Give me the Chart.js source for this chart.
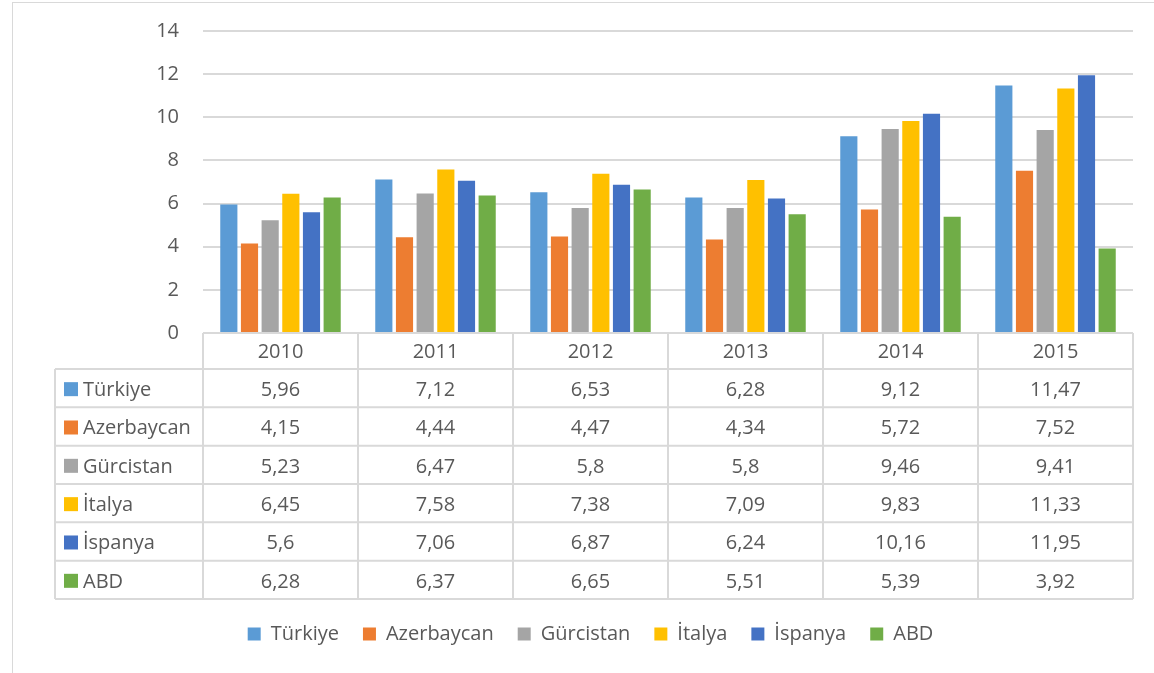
<!DOCTYPE html>
<html>
<head>
<meta charset="utf-8">
<script src="https://cdn.jsdelivr.net/npm/chart.js@4"></script>
<style>
  html, body { margin: 0; padding: 0; background: #fff; overflow: hidden; }
  #frame { position: absolute; left: 12px; top: 2px; width: 1200px; height: 800px; border: 1px solid #d9d9d9; }
  #wrap { position: absolute; left: 0; top: 0; width: 1154px; height: 673px; }
</style>
</head>
<body>
<div id="frame"></div>
<div id="wrap"><canvas id="grafico" width="1154" height="673"></canvas></div>
<script>
const anos = ["2010", "2011", "2012", "2013", "2014", "2015"];
const paises = ["Türkiye", "Azerbaycan", "Gürcistan", "İtalya", "İspanya", "ABD"];
const cores = ["#5b9bd5", "#ed7d31", "#a5a5a5", "#ffc000", "#4472c4", "#70ad47"];

const turkiye = [5.96, 7.12, 6.53, 6.28, 9.12, 11.47];
const azerbaycan = [4.15, 4.44, 4.47, 4.34, 5.72, 7.52];
const gurcistan = [5.23, 6.47, 5.8, 5.8, 9.46, 9.41];
const italya = [6.45, 7.58, 7.38, 7.09, 9.83, 11.33];
const ispanya = [5.6, 7.06, 6.87, 6.24, 10.16, 11.95];
const abd = [6.28, 6.37, 6.65, 5.51, 5.39, 3.92];

const valores = [turkiye, azerbaycan, gurcistan, italya, ispanya, abd];

const corTexto = "#595959";
const fonte = "'Open Sans', Lato, sans-serif";

// table under the plot, aligned with the x scale
const tabela = {
  id: "tabela",
  afterDraw(chart) {
    const ctx = chart.ctx;
    const x = chart.scales.x;
    const area = chart.chartArea;
    const colW = (area.right - area.left) / anos.length;
    const topo = area.bottom;
    const cab = 36;
    const linha = 38.33;
    const fim = topo + cab + linha * paises.length;
    const esq = 55;

    ctx.save();
    ctx.strokeStyle = "#d9d9d9";
    ctx.lineWidth = 2;
    ctx.beginPath();
    ctx.moveTo(area.left, topo);
    ctx.lineTo(area.right, topo);
    for (let r = 0; r <= paises.length; r++) {
      const y = topo + cab + r * linha;
      ctx.moveTo(esq, y);
      ctx.lineTo(area.right, y);
    }
    for (let c = 0; c <= anos.length; c++) {
      const xx = area.left + c * colW;
      ctx.moveTo(xx, topo);
      ctx.lineTo(xx, fim);
    }
    ctx.moveTo(esq, topo + cab);
    ctx.lineTo(esq, fim);
    ctx.stroke();

    ctx.font = "20px " + fonte;
    ctx.fillStyle = corTexto;
    ctx.textBaseline = "middle";
    ctx.textAlign = "center";
    anos.forEach((a, i) => {
      ctx.fillText(a, x.getPixelForValue(i), topo + cab / 2 + 1);
    });

    paises.forEach((p, r) => {
      const yc = topo + cab + r * linha + linha / 2 + 2;
      ctx.fillStyle = cores[r];
      ctx.fillRect(64, yc - 8, 14, 14);
      ctx.fillStyle = corTexto;
      ctx.textAlign = "left";
      ctx.fillText(p, 83, yc);
      ctx.textAlign = "center";
      valores[r].forEach((v, i) => {
        ctx.fillText(String(v).replace(".", ","), x.getPixelForValue(i), yc);
      });
    });
    ctx.restore();
  }
};

const ctx = document.getElementById("grafico").getContext("2d");

const chart = new Chart(ctx, {
  type: "bar",
  data: {
    labels: anos,
    datasets: paises.map((p, i) => ({
      label: p,
      data: valores[i],
      backgroundColor: cores[i],
      categoryPercentage: 0.8,
      barPercentage: 0.83,
    })),
  },
  options: {
    responsive: false,
    animation: false,
    layout: { padding: { left: 48, right: 21, top: 31, bottom: 19 } },
    scales: {
      y: {
        min: 0,
        max: 14,
        ticks: { stepSize: 2, color: corTexto, font: { family: fonte, size: 20 }, padding: 24 },
        grid: { color: "#d9d9d9", lineWidth: 2, drawTicks: false },
        border: { display: false },
        afterFit: (s) => { s.width = 155; s.paddingTop = 0; },
      },
      x: {
        ticks: { display: false },
        grid: { display: false },
        border: { display: false },
        afterFit: (s) => { s.height = 267; },
      },
    },
    plugins: {
      tooltip: { enabled: false },
      legend: {
        position: "bottom",
        labels: {
          boxWidth: 13,
          boxHeight: 13,
          padding: 24,
          color: corTexto,
          font: { family: fonte, size: 20 },
        },
      },
    },
  },
  plugins: [tabela],
});
</script>
</body>
</html>
